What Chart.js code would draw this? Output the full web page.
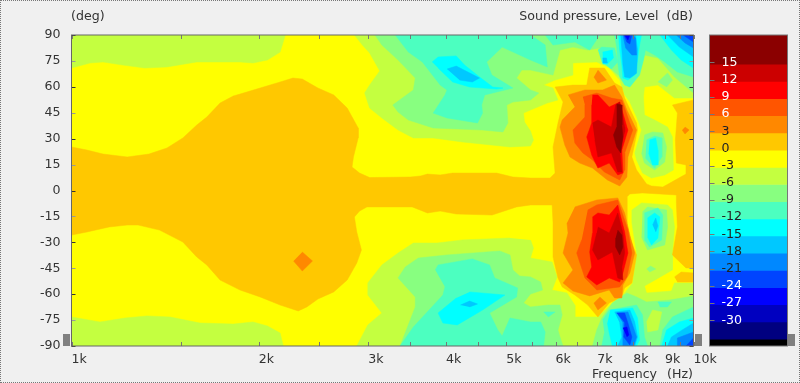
<!DOCTYPE html>
<html>
<head>
<meta charset="utf-8">
<script src="https://cdn.jsdelivr.net/npm/chart.js@4/dist/chart.umd.js"></script>
<style>
html, body { margin: 0; padding: 0; background: #f0f0f0; }
#page { position: relative; width: 800px; height: 383px; overflow: hidden; font: 12.6px "DejaVu Sans", sans-serif; color: #333; }
#page canvas { position: absolute; top: 0; }
#edge { position: absolute; left: 0; top: 0; width: 798px; height: 381px; border: 1px dotted #777; }
.cap { position: absolute; white-space: pre; }
.grip { position: absolute; top: 334px; width: 7px; height: 12px; background: #808080; }
</style>
</head>
<body>
<div id="page">
  <canvas id="plot" width="800" height="383" style="left:0"></canvas>
  <canvas id="scale" width="100" height="383" style="left:700px"></canvas>
  <div id="edge"></div>
  <div class="cap" style="left:71px;top:8px">(deg)</div>
  <div class="cap" style="right:107px;top:8px">Sound pressure, Level  (dB)</div>
  <div class="cap" style="right:107px;top:366px;word-spacing:1px">Frequency  (Hz)</div>
  <div class="grip" style="left:63px"></div>
  <div class="grip" style="left:695px"></div>
  <div class="grip" style="left:788px"></div>
</div>
<script>
// axis ticks
const freqTicks = [1000,1500,2000,2500,3000,3500,4000,4500,5000,5500,6000,6500,7000,7500,8000,8500,9000,9500,10000];
const freqLabels = {1000:'1k',2000:'2k',3000:'3k',4000:'4k',5000:'5k',6000:'6k',7000:'7k',8000:'8k',9000:'9k',10000:'10k'};
const angleTicks = [90,75,60,45,30,15,0,-15,-30,-45,-60,-75,-90];

// colour bar
const levelTicks = [15,12,9,6,3,0,-3,-6,-9,-12,-15,-18,-21,-24,-27,-30];
const bandEdges = [19.8,14.7,11.7,8.7,5.7,2.7,-0.3,-3.3,-6.3,-9.3,-12.3,-15.3,-18.3,-21.3,-24.3,-27.3,-30.3,-33.3,-34.5];
const bandColors = ['#8b0000','#cc0000','#ff0000','#ff5500','#ff8800','#ffc800','#ffff00','#c4ff40','#88ff80','#4cffc0','#00ffff','#00c8ff','#0088ff','#0044ff','#0000ff','#0000c0','#000080','#000000'];
const [dkred,red2,red1,org3,org2,org1,yel,grn1,grn2,grn3,cya1,cya2,blu1,blu2,blu3] = bandColors;

// contour outlines: [Hz, deg]
const whole = [[1000,90],[10000,90],[10000,-90],[1000,-90]];

const m3TopLeft = [[1000,90],[1000,70.9],[1071,73.8],[1124,74.4],[1209,72.6],[1312,70.9],[1424,71.5],[1590,74.4],[1714,74.4],[1866,74.4],[1958,73.8],[2065,75.5],[2165,80.1],[2207,90]];
const m3BotLeft = [[1000,-90],[1000,-73.2],[1111,-76.1],[1219,-73.8],[1322,-72.6],[1440,-73.2],[1609,-76.7],[1820,-77.3],[1958,-76.1],[2065,-78.4],[2165,-82.5],[2190,-90]];
const m3TopRight = [[2850,90],[2935,84.2],[3015,79.6],[3130,69.2],[3015,61],[2960,56.4],[3015,47.7],[3155,42],[3350,35],[3545,30.4],[3815,30.4],[4250,28.1],[5070,25.2],[5470,25.8],[5530,29.2],[5470,34.4],[5350,39.6],[5330,44.8],[5470,46.6],[5820,50.6],[6055,52.4],[5945,59.3],[5740,61],[5990,63.9],[6400,66.8],[6400,73.8],[6990,74.4],[7320,70.9],[7610,63.9],[7750,55.3],[7900,51.2],[8100,42.6],[8250,35],[8045,21.7],[8100,17.7],[8280,10.1],[8560,7.2],[8990,9],[9285,11.9],[9250,31],[9085,36.7],[8660,40.8],[8340,43.7],[8310,54.1],[8340,59.9],[8765,61],[9320,53.5],[10000,53.5],[10000,90]];
const m3BotRight = [[5470,-28.6],[5530,-33.3],[5470,-39.1],[5925,-41.4],[6035,-50],[5925,-57.6],[6260,-59.3],[6445,-66.3],[6445,-73.2],[7020,-73.2],[7405,-65.1],[7750,-59.3],[7985,-53.5],[8100,-36.2],[7960,-18.8],[7960,-11.3],[8250,-7.2],[9085,-8.4],[9250,-11.3],[9320,-21.1],[9250,-36.2],[9250,-46],[8730,-51.2],[8340,-55.3],[8405,-59.3],[9215,-58.2],[9320,-53.5],[10000,-53.5],[10000,-90],[2875,-90],[2995,-77.8],[3155,-70.9],[2995,-60.5],[2995,-53.5],[3155,-43.1],[3350,-36.2],[3545,-30.4],[3870,-30.4],[4250,-28.6],[5070,-27.5]];

const zeroBody = [[1000,25.2],[1059,23.4],[1124,21.1],[1229,19.4],[1332,21.1],[1424,24.6],[1510,30.4],[1590,37.9],[1650,42.5],[1733,50.6],[1820,54.7],[1866,55.8],[2010,59.3],[2165,62.8],[2270,65.1],[2350,64.5],[2490,59.3],[2640,55.3],[2775,47.7],[2890,36.2],[2890,30.4],[2840,19.4],[2825,13.6],[2905,10.1],[3015,7.5],[3505,7.8],[3640,8.4],[3735,9.5],[3915,9],[4100,10.1],[4825,10.1],[5125,7.8],[5470,7.2],[5880,7.2],[5990,10.1],[5945,25.2],[6055,39],[6170,51.2],[5990,59.9],[6400,61],[6735,61],[6810,70.9],[7190,70.9],[7465,62.2],[7670,59.9],[7750,53.5],[8100,39],[8130,35],[7960,19.4],[8100,11.9],[8405,3.8],[8560,2.6],[8925,2],[9725,9.5],[9725,14.8],[9385,15.9],[9350,29.2],[9385,36.7],[9420,44.8],[9250,49.5],[10000,52.4],[10000,-44.8],[9725,-44.8],[9250,-37.3],[9420,-21.1],[9385,-7.2],[9385,-2.6],[8280,-1.4],[7900,-2],[7815,-3.8],[7815,-18.8],[7900,-27.5],[8100,-37.3],[7960,-53.5],[7750,-56.4],[7670,-61.6],[7320,-65.1],[7020,-73.2],[6760,-66.3],[6445,-60.5],[6150,-55.8],[6055,-50.6],[5945,-38.5],[5945,-18.8],[5925,-8.4],[5470,-8.4],[5195,-9.5],[4745,-14.2],[4155,-13.6],[3915,-11.9],[3735,-13],[3530,-9.5],[2985,-9.5],[2905,-11.9],[2850,-15.3],[2875,-24],[2925,-34.4],[2875,-42],[2775,-51.8],[2640,-58.7],[2490,-62.8],[2390,-67.4],[2315,-69.7],[2165,-66.3],[2010,-61.6],[1866,-57.6],[1733,-51.8],[1650,-43.1],[1590,-38.5],[1510,-29.8],[1385,-22.9],[1280,-20],[1229,-20],[1150,-21.1],[1059,-24],[1000,-25.8]];
const zeroLobe = [[9320,-50],[9555,-47.2],[10000,-47.7],[10000,-53],[9420,-53]];

const m6Top = [[3075,90],[3155,84.2],[3350,75.5],[3570,65.1],[3545,58.2],[3285,49.5],[3350,45.4],[3480,40.8],[3815,36.2],[4580,35],[4940,33.9],[5030,39.1],[5010,49.5],[5125,51.2],[5470,52.4],[5640,56.4],[5470,58.2],[5195,65.1],[5295,69.7],[5470,69.7],[5945,66.8],[6100,81.3],[6400,83],[6760,81.3],[7070,82.5],[7190,74.4],[7465,68.6],[7900,61],[8190,68.6],[8340,78.4],[8765,76.7],[9320,65.7],[10000,56.4],[10000,90]];
const m6TopDot = [[8765,62.8],[9085,68],[9250,63.9],[9050,59.9]];
const m6Bot = [[3375,-90],[3570,-67.4],[3570,-61.6],[3350,-50.6],[3440,-44.3],[3610,-39.1],[4015,-37.3],[4880,-35],[5070,-37.3],[5125,-46],[5255,-49.5],[5470,-50],[5680,-53],[5720,-57.6],[5470,-59.9],[5330,-65.1],[5470,-67.4],[5840,-66.3],[6100,-66.3],[6150,-72],[6055,-80.7],[6100,-84.8],[6170,-90]];
const m6BotRight = [[6880,-90],[6990,-80.7],[7120,-73.8],[7405,-65.1],[7815,-59.3],[8100,-61.6],[8405,-64.5],[9150,-63.4],[10000,-61.1],[10000,-90]];
const m3BotPatch = [[8405,-76.1],[8595,-69.2],[8890,-70.3],[8765,-80.7],[8435,-81.9]];
const m6ColTop = [[8340,32.1],[8595,33.9],[8925,33.3],[9050,25.2],[8990,16.5],[8660,11.9],[8340,15.9],[8250,21.7]];
const m6ColBot = [[8280,-12.4],[8435,-9.5],[9050,-11.3],[9085,-21.1],[8990,-31.5],[8435,-34.4],[8250,-26.9]];
const m6ColBotDot = [[8405,-45.4],[8530,-43.7],[8695,-45.4],[8500,-47.2]];

const m9Top = [[3315,90],[3480,80.1],[3665,74.4],[3915,61],[4015,58.2],[3985,55.3],[3815,44.8],[4015,42],[4495,39.1],[4580,44.8],[4565,49.5],[4615,55.3],[5125,59.3],[4740,66.8],[4650,74.4],[4925,83],[5470,75.5],[5820,71.5],[5775,84.2],[5470,90]];
const m9Strip = [[5775,90],[5945,84.2],[6445,85.9],[6810,81.3],[7070,90]];
const m9Ring = [[7020,81.3],[7120,83],[7465,82.5],[7555,74.4],[7380,70.3],[7120,74.4]];
const m9Column = [[7465,90],[7525,83],[7555,73.8],[7610,65.7],[7750,61],[7900,59.9],[8190,66.8],[8310,75.5],[8370,81.3],[8660,78.4],[8990,74.4],[9420,68.6],[10000,65.7],[10000,90]];
const m9ColTop = [[8405,29.2],[8660,31.5],[8890,30.4],[8890,19.4],[8660,13],[8370,18.8]];
const m9ColBot = [[8340,-13],[8765,-10.1],[8925,-14.2],[8890,-28.6],[8500,-32.7],[8340,-28.6]];
const m9Bot = [[3845,-46],[3885,-43.1],[4410,-39.6],[4700,-43.1],[4790,-50.6],[5215,-56.4],[5195,-61.6],[4700,-70.9],[4845,-80.7],[4925,-84.2],[5070,-73.8],[5470,-76.1],[5680,-76.1],[5775,-81.9],[5740,-90],[3375,-90],[3545,-79],[3955,-60.5],[3985,-55.8]];
const m9BotDot = [[5740,-70.3],[5990,-70.3],[5840,-73.2]];
const m9BotBlob = [[8765,-64.5],[9215,-64.5],[9085,-67.4],[8830,-67.4]];
const m9BotCol = [[7145,-74.9],[7320,-69.2],[8100,-66.3],[8280,-72],[8340,-84.8],[8435,-90],[7120,-90],[7190,-82.5]];
const m9BotCorner = [[8830,-90],[8925,-80.7],[9250,-73.2],[10000,-67.4],[10000,-90]];

const m12Top = [[3800,74.4],[3885,77.3],[4155,77.9],[4285,72.6],[4530,65.7],[4755,59.9],[4940,59.3],[4825,58.7],[4365,59.9],[4100,62.8],[3885,70.9]];
const m12Blob = [[7145,80.1],[7405,81.3],[7435,76.7],[7270,73.2],[7145,73.2]];
const m12Column = [[7580,90],[7610,81.3],[7670,72.6],[7700,65.1],[7845,63.9],[8045,66.8],[8130,75.5],[8190,84.2],[8250,90]];
const m12Corner = [[8830,90],[9215,81.3],[9555,75.5],[10000,70.9],[10000,90]];
const m12ColTop = [[8500,29.2],[8695,30.4],[8765,23.4],[8765,14.8],[8595,14.8],[8470,21.7]];
const m12ColBot = [[8435,-15.9],[8660,-13],[8830,-15.3],[8765,-27.5],[8560,-31.5],[8435,-26.9]];
const m12Bot = [[4365,-58.7],[4975,-60.5],[4580,-69.2],[4170,-77.8],[3955,-76.7],[3885,-70.9],[4155,-62.2]];
const m12BotCol = [[7350,-69.2],[7985,-68],[8130,-73.8],[8190,-86.5],[8100,-90],[7405,-90],[7320,-82.5],[7270,-76.7]];
const m12BotCorner = [[8890,-90],[9050,-80.7],[9490,-76.1],[10000,-73.8],[10000,-90]];

const m15Top = [[4015,70.3],[4155,72],[4530,65.1],[4410,62.8],[4205,63.9]];
const m15Dot = [[7145,76.7],[7245,76.7],[7270,73.8],[7145,73.8]];
const m15Column = [[7640,90],[7670,81.3],[7700,72.6],[7750,65.7],[7900,65.1],[8100,67.9],[8130,81.3],[8070,90]];
const m15Corner = [[9085,90],[9490,83],[10000,77.3],[10000,90]];
const m15ColBot = [[8595,-20],[8695,-15.9],[8765,-20.5],[8695,-24]];
const m15Bot = [[4220,-66.3],[4365,-64],[4495,-65.7],[4365,-67.4]];
const m15BotCol = [[7465,-70.3],[7900,-69.2],[8045,-76.1],[8130,-84.8],[8045,-90],[7555,-90],[7670,-84.8],[7610,-76.7]];
const m15BotCorner = [[9085,-90],[9215,-84.8],[9590,-80.7],[10000,-76.7],[10000,-90]];

const m18Column = [[7700,90],[7780,82.5],[7960,78.4],[8100,78.4],[8070,88.2],[7985,90]];
const m18Corner = [[9385,90],[9690,85.4],[10000,82.5],[10000,90]];
const m18BotCol = [[7525,-70.9],[7845,-70.3],[7960,-76.7],[8100,-84.8],[8015,-90],[7700,-90],[7700,-82.5],[7700,-76.7]];
const m18BotCorner = [[9420,-90],[9420,-85.4],[10000,-81.9],[10000,-90]];

const m21Column = [[7725,90],[7815,85.9],[7900,84.8],[7960,90]];
const m21Corner = [[9625,90],[10000,85.9],[10000,90]];
const m21BotCol = [[7525,-70.9],[7750,-70.9],[7845,-76.7],[7960,-84.8],[7900,-89.4],[7725,-84.8],[7750,-76.7]];
const m21BotCorner = [[9725,-90],[10000,-85.4],[10000,-90]];

const m24Column = [[7750,90],[7845,87.1],[7900,90]];
const m24BotCol = [[7700,-79.6],[7815,-79],[7870,-83.6],[7815,-84.8]];

const p3Top = [[6285,55.3],[6690,58.2],[7145,58.2],[7465,61],[7670,54.1],[7815,46.6],[8100,35],[7845,19.4],[7815,7.8],[7610,2.6],[7270,6.1],[6880,13],[6560,15.9],[6330,19.4],[6210,26.3],[6100,36.7],[6150,40.8],[6445,48.3]];
const p3Bot = [[6445,-9.5],[6990,-5.5],[7555,-4.3],[7750,-13],[7900,-25.8],[8045,-36.2],[7900,-47.7],[7700,-54.7],[7670,-62.2],[7465,-62.2],[7320,-57.6],[7145,-58.7],[6810,-61],[6400,-58.2],[6170,-53.5],[6400,-46],[6170,-36.2],[6285,-24.6],[6260,-18.8]];
const p3DotTop = [[7020,69.7],[7245,63.9],[7020,62.2],[6915,65.7]];
const p3DotBot = [[7070,-61.6],[7245,-65.1],[7020,-69.1],[6915,-65.1]];
const p3DotRight = [[9690,36.7],[9840,35],[9690,32.7],[9590,35]];
const p3Diamond = [[2350,-35.6],[2440,-40.8],[2350,-46.6],[2275,-40.8]];
const p6Top = [[6640,54.1],[6990,56.4],[7380,53.5],[7670,52.4],[7900,39],[7985,35],[7750,21.7],[7750,11.9],[7610,6.1],[7190,10.7],[6880,17.7],[6640,21.7],[6445,27.5],[6400,35],[6690,42.5],[6690,49.5]];
const p6Bot = [[6760,-11.3],[6990,-8.4],[7555,-5.5],[7845,-22.9],[7960,-36.2],[7815,-50],[7610,-55.8],[6990,-57.6],[6690,-50.6],[6490,-36.2],[6610,-28.6]];
const p9Top = [[6880,55.3],[7020,55.3],[7320,48.3],[7610,51.2],[7815,36.7],[7845,35],[7670,23.4],[7700,10.1],[7555,9],[7320,15.9],[7020,13],[6860,20.5],[6735,31],[6860,39],[6860,49.5]];
const p9Bot = [[6880,-15.3],[7020,-13],[7320,-14.2],[7555,-8.4],[7750,-24],[7845,-36.2],[7700,-47.7],[7610,-53],[7320,-50.6],[6990,-54.7],[6735,-50],[6860,-44.3],[6810,-35.6],[6880,-24.6]];
const p12Top = [[6880,39],[7020,40.8],[7380,36.7],[7495,49.5],[7610,51.2],[7750,36.7],[7750,33.9],[7610,23.4],[7670,10.7],[7555,10.7],[7380,21.7],[7020,19.4],[6940,29.2]];
const p12Bot = [[7020,-21.1],[7320,-24.6],[7555,-13],[7700,-24.6],[7750,-36.2],[7670,-44.3],[7700,-51.8],[7555,-50.6],[7405,-35.6],[7020,-40.2],[6880,-34.4],[6990,-24.6]];
const p15Top = [[7525,50],[7670,49.5],[7670,37.9],[7700,31],[7640,21.7],[7525,25.2],[7435,32.1],[7525,36.7]];
const p15Bot = [[7555,-22.9],[7670,-25.8],[7700,-32.7],[7610,-37.3],[7495,-32.7],[7495,-27.5]];

// painted bottom to top
const layers = [
  [yel, whole],
  [grn1, m3TopLeft], [grn1, m3BotLeft], [grn1, m3TopRight], [grn1, m3BotRight],
  [org1, zeroBody], [org1, zeroLobe],
  [grn2, m6Top], [grn2, m6TopDot], [grn2, m6Bot], [grn2, m6BotRight], [grn1, m3BotPatch], [grn2, m6ColTop], [grn2, m6ColBot], [grn2, m6ColBotDot],
  [grn3, m9Top], [grn3, m9Strip], [grn3, m9Ring], [grn3, m9Column], [grn3, m9ColTop], [grn3, m9ColBot], [grn3, m9Bot], [grn3, m9BotDot], [grn3, m9BotBlob], [grn3, m9BotCol], [grn3, m9BotCorner],
  [cya1, m12Top], [cya1, m12Blob], [cya1, m12Column], [cya1, m12Corner], [cya1, m12ColTop], [cya1, m12ColBot], [cya1, m12Bot], [cya1, m12BotCol], [cya1, m12BotCorner],
  [cya2, m15Top], [cya2, m15Dot], [cya2, m15Column], [cya2, m15Corner], [cya2, m15ColBot], [cya2, m15Bot], [cya2, m15BotCol], [cya2, m15BotCorner],
  [blu1, m18Column], [blu1, m18Corner], [blu1, m18BotCol], [blu1, m18BotCorner],
  [blu2, m21Column], [blu2, m21Corner], [blu2, m21BotCol], [blu2, m21BotCorner],
  [blu3, m24Column], [blu3, m24BotCol],
  [org2, p3Top], [org2, p3Bot], [org2, p3DotTop], [org2, p3DotBot], [org2, p3DotRight], [org2, p3Diamond],
  [org3, p6Top], [org3, p6Bot],
  [red1, p9Top], [red1, p9Bot],
  [red2, p12Top], [red2, p12Bot],
  [dkred, p15Top], [dkred, p15Bot]
];

Chart.defaults.font.family = '"DejaVu Sans", sans-serif';
Chart.defaults.font.size = 12.6;
Chart.defaults.color = '#333';
Chart.defaults.animation = false;

// gnuplot style inward ticks and frame
const plotFrame = {
  id: 'plotFrame',
  afterDatasetsDraw(chart) {
    const {ctx, chartArea: a, scales: {x, y}} = chart;
    ctx.save();
    ctx.lineWidth = 1;
    ctx.strokeStyle = '#777';
    freqTicks.forEach(f => {
      const px = Math.round(x.getPixelForValue(f)) + 0.5;
      ctx.beginPath();
      ctx.moveTo(px, a.top); ctx.lineTo(px, a.top + 4);
      ctx.moveTo(px, a.bottom); ctx.lineTo(px, a.bottom - 4);
      ctx.stroke();
    });
    angleTicks.forEach(d => {
      const py = Math.round(y.getPixelForValue(d)) + 0.5;
      ctx.strokeStyle = d % 30 === 0 ? '#333' : '#999';
      ctx.beginPath();
      ctx.moveTo(a.left, py); ctx.lineTo(a.left + 4, py);
      ctx.moveTo(a.right, py); ctx.lineTo(a.right - 4, py);
      ctx.stroke();
    });
    ctx.strokeStyle = '#666';
    ctx.strokeRect(a.left, a.top, a.right - a.left, a.bottom - a.top);
    ctx.restore();
  }
};

const plot = new Chart(document.getElementById('plot'), {
  type: 'scatter',
  data: {
    datasets: layers.map(([color, outline], i) => ({
      data: outline.map(([f, d]) => ({x: f, y: d})),
      showLine: true,
      fill: 'shape',
      backgroundColor: color,
      borderColor: color,
      borderWidth: 0.5,
      pointRadius: 0,
      order: layers.length - i
    }))
  },
  options: {
    responsive: false,
    layout: {padding: {left: 0, top: 35, right: 106.5, bottom: 0}},
    plugins: {legend: {display: false}, tooltip: {enabled: false}},
    scales: {
      x: {
        type: 'logarithmic', min: 1000, max: 10000,
        grid: {display: false, drawTicks: false},
        border: {display: false},
        afterBuildTicks: s => { s.ticks = freqTicks.map(v => ({value: v})); },
        afterFit: s => { s.height = 37; },
        ticks: {autoSkip: false, maxRotation: 0, align: 'start', padding: 6, callback: v => freqLabels[v] || ''}
      },
      y: {
        min: -90, max: 90,
        grid: {display: false, drawTicks: false},
        border: {display: false},
        afterBuildTicks: s => { s.ticks = angleTicks.map(v => ({value: v})); },
        afterFit: s => { s.width = 71.5; },
        ticks: {autoSkip: false, padding: 11, callback: v => String(v)}
      }
    }
  },
  plugins: [plotFrame]
});

const scaleFrame = {
  id: 'scaleFrame',
  afterDraw(chart) {
    const {ctx, chartArea: a, scales: {y}} = chart;
    ctx.save();
    ctx.strokeStyle = '#777';
    ctx.lineWidth = 1;
    levelTicks.forEach(l => {
      const py = Math.round(y.getPixelForValue(l)) + 0.5;
      ctx.beginPath();
      ctx.moveTo(a.left, py); ctx.lineTo(a.left + 5, py);
      ctx.stroke();
    });
    ctx.strokeRect(a.left, a.top, a.right - a.left, a.bottom - a.top);
    ctx.restore();
  }
};

const scaleBar = new Chart(document.getElementById('scale'), {
  type: 'bar',
  data: {
    labels: ['Level'],
    datasets: bandColors.map((color, i) => ({
      data: [[bandEdges[i + 1], bandEdges[i]]],
      backgroundColor: color,
      barPercentage: 1,
      categoryPercentage: 1,
      grouped: false
    }))
  },
  options: {
    responsive: false,
    layout: {padding: {left: 9.5, top: 35, right: 12.5, bottom: 37}},
    plugins: {legend: {display: false}, tooltip: {enabled: false}},
    scales: {
      x: {display: false},
      y: {
        min: -34.5, max: 19.8,
        grid: {display: false, drawTicks: false},
        border: {display: false},
        afterBuildTicks: s => { s.ticks = levelTicks.map(v => ({value: v})); },
        afterFit: s => { s.width = 0; },
        ticks: {
          autoSkip: false, mirror: true, padding: 12, z: 1,
          color: c => (c.tick.value >= 6 || c.tick.value <= -24) ? '#fff' : '#222',
          callback: v => String(v)
        }
      }
    }
  },
  plugins: [scaleFrame]
});
</script>
</body>
</html>
